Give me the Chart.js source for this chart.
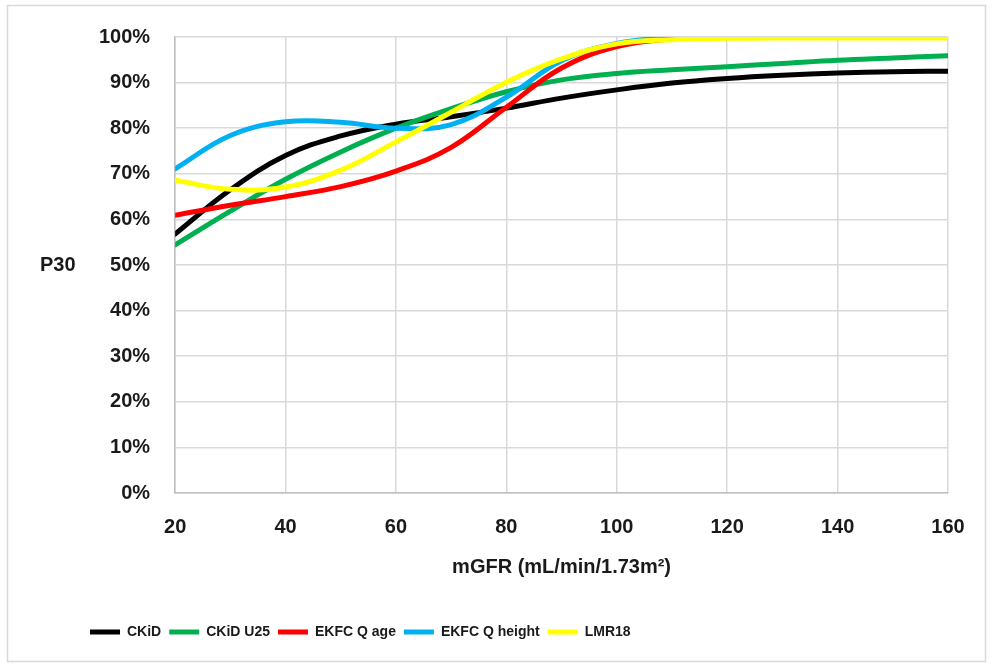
<!DOCTYPE html>
<html>
<head>
<meta charset="utf-8">
<script src="https://cdn.jsdelivr.net/npm/chart.js@4.4.1/dist/chart.umd.min.js"></script>
<style>
  html, body { margin: 0; padding: 0; background: #fff; }
  #wrap { width: 993px; height: 666px; }
</style>
</head>
<body>
<div id="wrap"><canvas id="p30Chart"></canvas></div>
<script>
// mGFR (mL/min/1.73m2)
var mgfr = [20, 30, 40, 50, 60, 70, 80, 90, 100, 110, 120, 130, 140, 150, 160];

// P30 in %
var ckid       = [56.8, 66.5, 74, 78.3, 80.9, 82.5, 84.4, 86.6, 88.4, 89.9, 90.9, 91.6, 92.1, 92.4, 92.5];
var ckidU25    = [54.4, 61.8, 68.8, 74.8, 80, 84.3, 88, 90.6, 92, 92.8, 93.5, 94.2, 94.9, 95.4, 95.9];
var ekfcAge    = [60.9, 63.1, 65, 67.2, 70.6, 75.8, 84.6, 93.2, 97.9, 99.6, 100, 100, 100, 100, 100];
var ekfcHeight = [71.1, 78.4, 81.4, 81.3, 80, 80.8, 86.8, 94.8, 98.6, 99.8, 100, 100, 100, 100, 100];
var lmr18      = [68.6, 66.6, 67.1, 70.8, 77, 83.5, 90.1, 95.2, 98.5, 99.4, 99.7, 99.8, 99.8, 99.8, 99.8];

var xTicks = [20, 40, 60, 80, 100, 120, 140, 160];

function pts(vals) {
  return vals.map(function (v, i) { return { x: mgfr[i], y: v }; });
}

function line(label, vals, color, order) {
  return {
    label: label,
    data: pts(vals),
    borderColor: color,
    backgroundColor: color,
    borderWidth: 5,
    borderCapStyle: 'round',
    pointRadius: 0,
    pointHoverRadius: 0,
    tension: 0.4,
    fill: false,
    order: order
  };
}

var frameAndTitle = {
  id: 'frameAndTitle',
  afterLayout: function (chart) {
    // Excel places the legend left of centre
    chart.legend.left = 82;
  },
  afterDraw: function (chart) {
    var ctx = chart.ctx;
    var y = chart.scales.y;
    ctx.save();
    ctx.strokeStyle = '#d9d9d9';
    ctx.lineWidth = 1.5;
    ctx.strokeRect(7.5, 5.5, 978, 656);
    ctx.fillStyle = '#1a1a1a';
    ctx.font = 'bold 20px "Liberation Sans", Arial, sans-serif';
    ctx.textAlign = 'left';
    ctx.textBaseline = 'middle';
    ctx.fillText('P30', 40, (y.top + y.bottom) / 2);
    ctx.restore();
  }
};

var ctx = document.getElementById('p30Chart').getContext('2d');
var p30Chart = new Chart(ctx, {
  type: 'line',
  data: {
    datasets: [
      line('CKiD', ckid, '#000000', 5),
      line('CKiD U25', ckidU25, '#00b050', 4),
      line('EKFC Q age', ekfcAge, '#ff0000', 3),
      line('EKFC Q height', ekfcHeight, '#00b0f0', 2),
      line('LMR18', lmr18, '#ffff00', 1)
    ]
  },
  options: {
    responsive: true,
    maintainAspectRatio: false,
    animation: false,
    layout: { padding: { left: 74, right: 45, top: 35, bottom: 17 } },
    plugins: {
      legend: {
        position: 'bottom',
        align: 'start',
        labels: {
          usePointStyle: true,
          pointStyle: 'line',
          pointStyleWidth: 30,
          padding: 8,
          color: '#1a1a1a',
          font: { family: '"Liberation Sans Narrow", "Liberation Sans", Arial, sans-serif', size: 14, weight: 'bold' },
          sort: function (a, b) { return a.datasetIndex - b.datasetIndex; }
        }
      },
      tooltip: { enabled: false }
    },
    scales: {
      x: {
        type: 'linear',
        min: 20,
        max: 160,
        afterBuildTicks: function (axis) {
          axis.ticks = xTicks.map(function (v) { return { value: v }; });
        },
        grid: { color: '#d9d9d9', lineWidth: 1.5, drawTicks: false },
        border: { color: '#bfbfbf', width: 1.5 },
        ticks: {
          padding: 22,
          color: '#1a1a1a',
          font: { family: '"Liberation Sans", Arial, sans-serif', size: 20, weight: 'bold' }
        },
        title: {
          display: true,
          text: 'mGFR (mL/min/1.73m²)',
          color: '#1a1a1a',
          padding: { top: -6, bottom: 38 },
          font: { family: '"Liberation Sans", Arial, sans-serif', size: 20, weight: 'bold' }
        }
      },
      y: {
        min: 0,
        max: 100,
        grid: { color: '#d9d9d9', lineWidth: 1.5, drawTicks: false },
        border: { color: '#bfbfbf', width: 1.5 },
        ticks: {
          stepSize: 10,
          padding: 25,
          color: '#1a1a1a',
          font: { family: '"Liberation Sans", Arial, sans-serif', size: 20, weight: 'bold' },
          callback: function (v) { return v + '%'; }
        }
      }
    }
  },
  plugins: [frameAndTitle]
});
</script>
</body>
</html>
